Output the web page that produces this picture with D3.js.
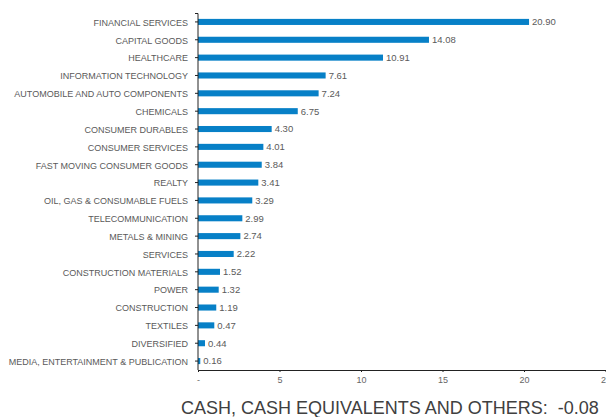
<!DOCTYPE html>
<html>
<head>
<meta charset="utf-8">
<script src="https://cdn.jsdelivr.net/npm/d3@7"></script>
<style>
  html, body { margin: 0; padding: 0; background: #fff; }
  svg { display: block; font-family: "Liberation Sans", Arial, sans-serif; }
</style>
</head>
<body>
<div id="chart"></div>
<script>
// sector allocation (%)
const sectors = [
  "FINANCIAL SERVICES", "CAPITAL GOODS", "HEALTHCARE", "INFORMATION TECHNOLOGY",
  "AUTOMOBILE AND AUTO COMPONENTS", "CHEMICALS", "CONSUMER DURABLES", "CONSUMER SERVICES",
  "FAST MOVING CONSUMER GOODS", "REALTY", "OIL, GAS & CONSUMABLE FUELS", "TELECOMMUNICATION",
  "METALS & MINING", "SERVICES", "CONSTRUCTION MATERIALS", "POWER", "CONSTRUCTION",
  "TEXTILES", "DIVERSIFIED", "MEDIA, ENTERTAINMENT & PUBLICATION"
];
// printed labels
const weights = [20.90, 14.08, 10.91, 7.61, 7.24, 6.75, 4.30, 4.01, 3.84, 3.41, 3.29, 2.99,
  2.74, 2.22, 1.52, 1.32, 1.19, 0.47, 0.44, 0.16];
// bar lengths as drawn in the source picture (read against the x axis)
const barLengths = [20.31, 14.17, 11.35, 7.83, 7.40, 6.12, 4.52, 4.01, 3.91, 3.70, 3.33, 2.72,
  2.60, 2.19, 1.35, 1.27, 1.12, 1.00, 0.43, 0.14];
const xTicks = [0, 5, 10, 15, 20, 25];
const cashLabel = "CASH, CASH EQUIVALENTS AND OTHERS:";
const cashValue = -0.08;

const width = 606, height = 417;
const margin = { top: 13, right: 0, bottom: 47, left: 198 };

const svg = d3.select("#chart").append("svg")
  .attr("width", width)
  .attr("height", height);

const x = d3.scaleLinear()
  .domain([0, 25])
  .range([margin.left, 605.5]);

const y = d3.scaleBand()
  .domain(sectors)
  .range([margin.top, height - margin.bottom])
  .paddingInner(0.66)
  .paddingOuter(0.33);

// bars
svg.append("g")
  .selectAll("rect")
  .data(sectors)
  .join("rect")
  .attr("x", x(0))
  .attr("y", d => y(d))
  .attr("width", (d, i) => x(barLengths[i]) - x(0))
  .attr("height", y.bandwidth())
  .attr("fill", "#0780c7");

// value labels
svg.append("g")
  .selectAll("text")
  .data(sectors)
  .join("text")
  .attr("x", (d, i) => x(barLengths[i]) + 3)
  .attr("y", d => y(d) + y.bandwidth() / 2)
  .attr("dy", "0.35em")
  .attr("font-size", 9.5)
  .attr("fill", "#5a5a5a")
  .text((d, i) => weights[i].toFixed(2));

// y axis
const yAxis = svg.append("g")
  .attr("transform", `translate(${margin.left},0)`)
  .call(d3.axisLeft(y).tickSize(3).tickPadding(7));
yAxis.select(".domain").attr("stroke", "#222").attr("d", `M-3,${margin.top + 0.5}H0V${height - margin.bottom}`);
yAxis.selectAll(".tick line").attr("stroke", "#222");
yAxis.selectAll(".tick text")
  .attr("font-size", 9)
  .attr("fill", "#5a5a5a")
  .attr("dy", "0.42em")
  .attr("font-family", "Liberation Sans, Arial, sans-serif");

// x axis
const xAxis = svg.append("g")
  .attr("transform", `translate(0,${height - margin.bottom})`)
  .call(d3.axisBottom(x).tickValues(xTicks).tickSize(2).tickPadding(5)
    .tickFormat(d => d === 0 ? "-" : d));
xAxis.select(".domain").attr("stroke", "#222").attr("d", `M${margin.left},0.5H${width}`);
xAxis.selectAll(".tick line").attr("stroke", "#222");
xAxis.selectAll(".tick text")
  .attr("font-size", 9)
  .attr("fill", "#666")
  .attr("font-family", "Liberation Sans, Arial, sans-serif");

// cash footnote
svg.append("text")
  .attr("x", 181)
  .attr("y", 414)
  .attr("font-size", 18)
  .attr("fill", "#404040")
  .attr("xml:space", "preserve")
  .text(`${cashLabel}  ${cashValue.toFixed(2)}`);
</script>
</body>
</html>
